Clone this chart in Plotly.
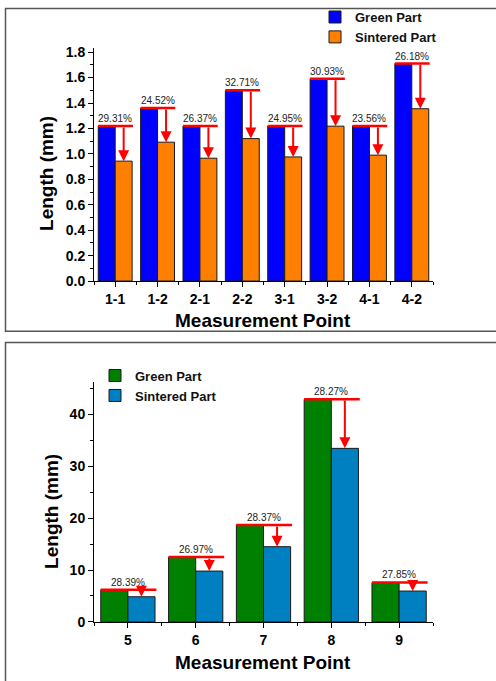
import plotly.graph_objects as go

W, H = 496, 681

# ---------- data: top chart ----------
top_points = ["1-1", "1-2", "2-1", "2-2", "3-1", "3-2", "4-1", "4-2"]
top_green = [1.22, 1.36, 1.22, 1.50, 1.22, 1.59, 1.22, 1.71]
top_sintered = [0.943, 1.092, 0.966, 1.12, 0.976, 1.218, 0.990, 1.355]
top_labels = ["29.31%", "24.52%", "26.37%", "32.71%", "24.95%", "30.93%", "23.56%", "26.18%"]

# ---------- data: bottom chart ----------
bot_points = ["5", "6", "7", "8", "9"]
bot_green = [6.2, 12.5, 18.7, 42.9, 7.6]
bot_sintered = [4.85, 9.8, 14.5, 33.45, 5.95]
bot_labels = ["28.39%", "26.97%", "28.37%", "28.27%", "27.85%"]

FONT = "Liberation Sans, Arial, sans-serif"

def px_x(p):
    return p / W

def px_y(p):
    return 1 - p / H

fig = go.Figure()

top_idx = list(range(len(top_points)))
bot_idx = list(range(len(bot_points)))

fig.add_trace(go.Bar(x=top_idx, y=top_green, name="Green Part", marker=dict(color="#0000FF", line=dict(color="#1a1a1a", width=1)),
                     xaxis="x", yaxis="y", legend="legend"))
fig.add_trace(go.Bar(x=top_idx, y=top_sintered, name="Sintered Part", marker=dict(color="#FF8000", line=dict(color="#1a1a1a", width=1)),
                     xaxis="x", yaxis="y", legend="legend"))
fig.add_trace(go.Bar(x=bot_idx, y=bot_green, name="Green Part", marker=dict(color="#008000", line=dict(color="#1a1a1a", width=1)),
                     xaxis="x2", yaxis="y2", legend="legend2"))
fig.add_trace(go.Bar(x=bot_idx, y=bot_sintered, name="Sintered Part", marker=dict(color="#0080C0", line=dict(color="#1a1a1a", width=1)),
                     xaxis="x2", yaxis="y2", legend="legend2"))

shapes = []
annotations = []

def add_markers(idx, green, sintered, labels, xa, ya):
    for i, g, s, lab in zip(idx, green, sintered, labels):
        shapes.append(dict(type="line", xref=xa, yref=ya, x0=i - 0.4, x1=i + 0.42, y0=g, y1=g,
                           line=dict(color="#FF0000", width=2.5)))
        annotations.append(dict(xref=xa, yref=ya, x=i + 0.2, y=s, ax=i + 0.2, ay=g,
                                axref=xa, ayref=ya, showarrow=True, arrowhead=2, arrowsize=1.1,
                                arrowwidth=2, arrowcolor="#FF0000", text=""))
        annotations.append(dict(xref=xa, yref=ya, x=i, y=g, text=lab, showarrow=False,
                                xanchor="center", yanchor="bottom", yshift=0,
                                font=dict(family=FONT, size=10, color="#222")))

add_markers(top_idx, top_green, top_sintered, top_labels, "x", "y")
add_markers(bot_idx, bot_green, bot_sintered, bot_labels, "x2", "y2")

# panel frames
shapes.append(dict(type="rect", xref="paper", yref="paper", x0=px_x(5.5), x1=1.05, y0=px_y(333), y1=px_y(4.5),
                   line=dict(color="#555", width=1.5)))
shapes.append(dict(type="rect", xref="paper", yref="paper", x0=px_x(5.5), x1=1.05, y0=-0.05, y1=px_y(344.5),
                   line=dict(color="#555", width=1.5)))

# axis titles
title_font = dict(family=FONT, size=19, color="black", weight="bold")
annotations += [
    dict(xref="paper", yref="paper", x=px_x(47), y=px_y(173), text="<b>Length (mm)</b>", textangle=-90,
         xanchor="center", yanchor="middle", showarrow=False, font=title_font),
    dict(xref="paper", yref="paper", x=px_x(263), y=px_y(322), text="<b>Measurement Point</b>",
         xanchor="center", yanchor="middle", showarrow=False, font=title_font),
    dict(xref="paper", yref="paper", x=px_x(52), y=px_y(517), text="<b>Length (mm)</b>", textangle=-90,
         xanchor="center", yanchor="middle", showarrow=False, font=title_font),
    dict(xref="paper", yref="paper", x=px_x(263), y=px_y(670), text="<b>Measurement Point</b>",
         xanchor="center", yanchor="middle", showarrow=False, font=title_font),
]

tick_font = dict(family=FONT, size=14, color="black", weight="bold")

def xaxis(dom_anchor, ticktext, n):
    return dict(domain=[px_x(94), px_x(433)], anchor=dom_anchor, range=[-0.5, n - 0.5],
                tickmode="array", tickvals=list(range(n)), ticktext=ticktext,
                showline=True, linecolor="black", linewidth=1, ticks="outside", ticklen=5,
                tickcolor="black", tickwidth=1, showgrid=False, zeroline=False, tickfont=tick_font,
                minor=dict(tickmode="linear", tick0=0.5, dtick=1, ticks="outside", ticklen=3,
                           tickcolor="black", showgrid=False))

def yaxis(dom, rng, dtick, mdtick, fmt, anchor):
    return dict(domain=dom, anchor=anchor, range=rng, dtick=dtick, tick0=0, tickformat=fmt,
                showline=True, linecolor="black", linewidth=1, ticks="outside", ticklen=5,
                tickcolor="black", showgrid=False, zeroline=False, tickfont=tick_font,
                minor=dict(dtick=mdtick, ticks="outside", ticklen=3, tickcolor="black", showgrid=False))

legend_font = dict(family=FONT, size=13, color="#111", weight="bold")

fig.update_layout(
    width=W, height=H, margin=dict(l=0, r=0, t=0, b=0),
    paper_bgcolor="white", plot_bgcolor="white",
    barmode="group", bargap=0.2, bargroupgap=0,
    xaxis=xaxis("y", top_points, len(top_points)),
    yaxis=yaxis([px_y(282), px_y(45)], [0, 1.831], 0.2, 0.1, ".1f", "x"),
    xaxis2=xaxis("y2", bot_points, len(bot_points)),
    yaxis2=yaxis([px_y(629), px_y(385)], [0, 46.2], 10, 5, "d", "x2"),
    legend=dict(x=px_x(315), y=px_y(-2), xanchor="left", yanchor="top", bgcolor="rgba(0,0,0,0)",
                font=legend_font, tracegroupgap=0),
    legend2=dict(x=px_x(95), y=px_y(363), xanchor="left", yanchor="top", bgcolor="rgba(0,0,0,0)",
                 font=legend_font, tracegroupgap=0),
    shapes=shapes, annotations=annotations, font=dict(family=FONT),
)

fig.write_html("out.html", config={"displayModeBar": False},
               post_script="document.body.style.margin='0';document.body.style.overflow='hidden';")
